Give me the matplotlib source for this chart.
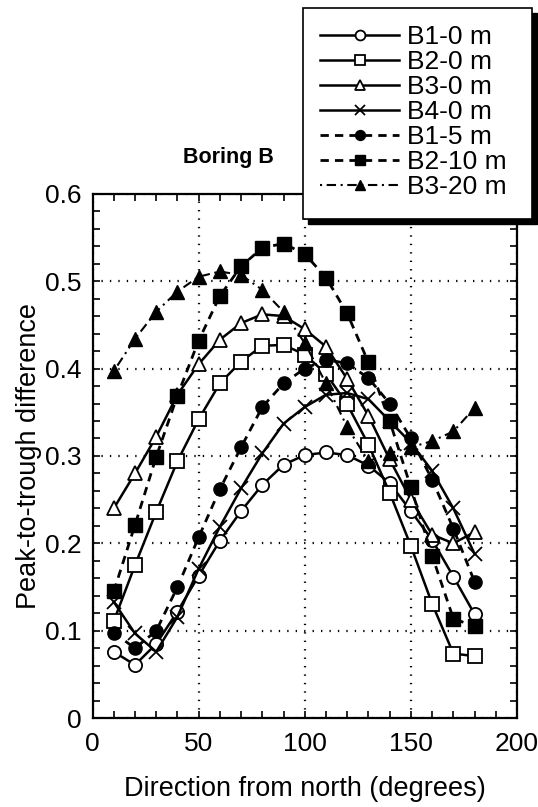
#!/usr/bin/env python3
"""Boring B - peak-to-trough difference against direction from north."""

import matplotlib
matplotlib.use("Agg")
import matplotlib.pyplot as plt
import matplotlib.ticker as mticker
from matplotlib.patches import Rectangle


# ---------------------------------------------------------------------------
# Data
# ---------------------------------------------------------------------------

directions = [10, 20, 30, 40, 50, 60, 70, 80, 90,
              100, 110, 120, 130, 140, 150, 160, 170, 180]

b1_0m = [0.076, 0.061, 0.085, 0.122, 0.163, 0.203, 0.237, 0.267, 0.290,
         0.301, 0.304, 0.301, 0.289, 0.269, 0.237, 0.204, 0.162, 0.119]
b2_0m = [0.111, 0.175, 0.236, 0.294, 0.342, 0.383, 0.408, 0.426, 0.427,
         0.416, 0.394, 0.359, 0.313, 0.258, 0.197, 0.131, 0.074, 0.071]
b3_0m = [0.240, 0.280, 0.322, 0.370, 0.405, 0.433, 0.452, 0.462, 0.460,
         0.445, 0.425, 0.388, 0.346, 0.296, 0.250, 0.210, 0.200, 0.213]
b4_0m = [0.133, 0.097, 0.076, 0.116, 0.171, 0.219, 0.263, 0.303, 0.337,
         0.356, 0.370, 0.372, 0.365, 0.340, 0.315, 0.283, 0.240, 0.188]
b1_5m = [0.098, 0.080, 0.100, 0.150, 0.207, 0.262, 0.310, 0.356, 0.383,
         0.400, 0.410, 0.406, 0.389, 0.360, 0.320, 0.273, 0.217, 0.156]
b2_10m = [0.145, 0.221, 0.299, 0.369, 0.432, 0.483, 0.517, 0.538, 0.543,
          0.531, 0.504, 0.463, 0.407, 0.340, 0.264, 0.186, 0.114, 0.105]
b3_20m = [0.397, 0.434, 0.465, 0.488, 0.505, 0.511, 0.507, 0.490, 0.465,
          0.429, 0.383, 0.333, 0.294, 0.303, 0.310, 0.317, 0.328, 0.355]

labels = ["B1-0 m", "B2-0 m", "B3-0 m", "B4-0 m",
          "B1-5 m", "B2-10 m", "B3-20 m"]


# ---------------------------------------------------------------------------
# Plotting
# ---------------------------------------------------------------------------

def plot():
    plt.rcParams["font.family"] = ["Liberation Sans", "DejaVu Sans"]

    fig = plt.figure(figsize=(5.38, 8.07), dpi=100)
    ax = fig.add_axes([0.172, 0.110, 0.789, 0.650])

    series = [b1_0m, b2_0m, b3_0m, b4_0m, b1_5m, b2_10m, b3_20m]
    solid = dict(color="black", linewidth=1.8, markersize=9.5,
                 markeredgewidth=1.3, markerfacecolor="white")
    dashed = dict(color="black", linewidth=2.0, markersize=9.5,
                  dashes=(3.0, 2.2))
    styles = [
        dict(solid, marker="o"),
        dict(solid, marker="s"),
        dict(solid, marker="^", markersize=10.5),
        dict(color="black", linewidth=1.8, marker="x", markersize=10,
             markeredgewidth=1.3),
        dict(dashed, marker="o"),
        dict(dashed, marker="s"),
        dict(color="black", linewidth=1.5, marker="^", markersize=10.5,
             dashes=(1.0, 2.2, 4.5, 2.2)),
    ]

    handles = []
    for values, label, style in zip(series, labels, styles):
        h, = ax.plot(directions, values, label=label, clip_on=False, **style)
        handles.append(h)

    ax.set_xlim(0, 200)
    ax.set_ylim(0, 0.6)
    ax.xaxis.set_major_locator(mticker.MultipleLocator(50))
    ax.xaxis.set_minor_locator(mticker.MultipleLocator(10))
    ax.yaxis.set_major_locator(mticker.MultipleLocator(0.1))
    ax.yaxis.set_minor_locator(mticker.MultipleLocator(0.02))
    ax.yaxis.set_major_formatter(mticker.FuncFormatter(lambda v, _: f"{v:g}"))

    ax.tick_params(which="both", direction="in", top=True, right=True,
                   length=5, width=1.2, labelsize=19)
    ax.tick_params(axis="x", which="major", pad=10)
    ax.tick_params(axis="y", which="major", pad=8)
    for spine in ax.spines.values():
        spine.set_linewidth(1.6)

    ax.grid(True, which="major", color="black", linewidth=1.6,
            linestyle=(0, (0.6, 3.2)))
    ax.set_axisbelow(True)

    ax.set_xlabel("Direction from north (degrees)", fontsize=19.5, labelpad=14)
    ax.set_ylabel("Peak-to-trough difference", fontsize=19.5, labelpad=2)

    fig.text(228 / 538, 1 - 158 / 807, "Boring B", fontsize=15.5,
             fontweight="bold", ha="center", va="center")

    # Legend box with a hard drop shadow, drawn over the top of the axes
    x0, y0 = 303 / 538, 1 - 219 / 807
    w, h = 229 / 538, 211 / 807
    fig.add_artist(Rectangle((x0 + 5 / 538, y0 - 5 / 807), w, h,
                             transform=fig.transFigure, facecolor="black",
                             edgecolor="black", zorder=3))
    fig.add_artist(Rectangle((x0, y0), w, h, transform=fig.transFigure,
                             facecolor="white", edgecolor="black",
                             linewidth=1.2, zorder=4))
    leg = fig.legend(handles=handles, loc="upper left",
                     bbox_to_anchor=(320 / 538, 1 - 25 / 807),
                     frameon=False, fontsize=19, handlelength=3.0,
                     handletextpad=0.3, labelspacing=0.04, borderpad=0,
                     borderaxespad=0, markerscale=0.75)
    leg.set_zorder(5)

    out = "out.png"
    fig.savefig(out, dpi=100)
    print(f"Chart saved to {out}")


if __name__ == "__main__":
    plot()
